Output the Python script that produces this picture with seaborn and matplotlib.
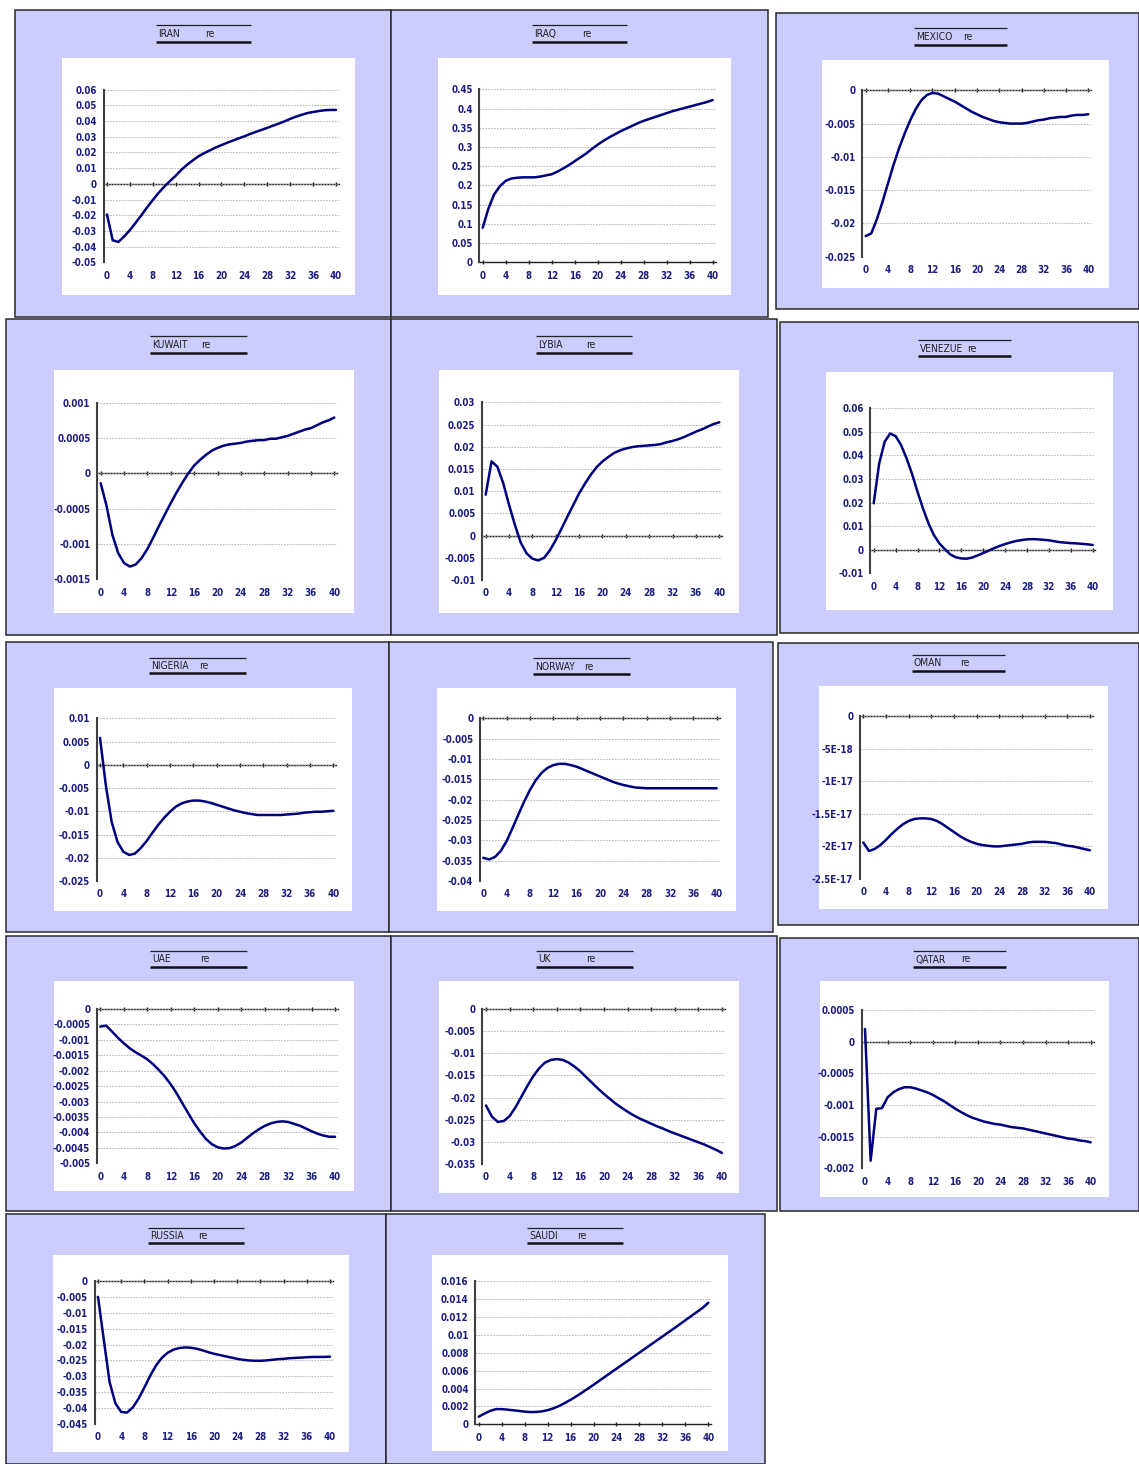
import numpy as np
import matplotlib
matplotlib.use("Agg")
import matplotlib.pyplot as plt
from matplotlib import font_manager
import seaborn as sns
from matplotlib.patches import Rectangle

# Impulse responses of "re" over a 40-period horizon
horizon = list(range(41))

iran = [-0.0195, -0.0360, -0.0370, -0.0335, -0.0295, -0.0248, -0.0200, -0.0150, -0.0103, -0.0058,
        -0.0018, 0.0018, 0.0052, 0.0090, 0.0122, 0.0150, 0.0176, 0.0196, 0.0214, 0.0232,
        0.0247, 0.0262, 0.0276, 0.0290, 0.0303, 0.0318, 0.0331, 0.0344, 0.0357, 0.0371,
        0.0384, 0.0398, 0.0414, 0.0428, 0.0440, 0.0451, 0.0458, 0.0464, 0.0469, 0.0471, 0.0471]
iraq = [0.090, 0.140, 0.177, 0.198, 0.212, 0.218, 0.220, 0.221, 0.221, 0.221,
        0.223, 0.226, 0.229, 0.236, 0.244, 0.253, 0.263, 0.273, 0.283, 0.295,
        0.306, 0.316, 0.325, 0.333, 0.341, 0.348, 0.355, 0.362, 0.368, 0.373,
        0.378, 0.383, 0.388, 0.393, 0.397, 0.401, 0.405, 0.409, 0.413, 0.417, 0.422]
mexico = [-0.0219, -0.0215, -0.0194, -0.0168, -0.0140, -0.0112, -0.0087, -0.0065, -0.0045, -0.0028,
          -0.0015, -0.0007, -0.0004, -0.0005, -0.0009, -0.0013, -0.0017, -0.0022, -0.0027, -0.0032,
          -0.0036, -0.0040, -0.0043, -0.0046, -0.0048, -0.0049, -0.0050, -0.0050, -0.0050, -0.0049,
          -0.0047, -0.0045, -0.0044, -0.0042, -0.0041, -0.0040, -0.0040, -0.0038, -0.0037, -0.0037, -0.0036]
kuwait = [-0.00014, -0.00046, -0.00087, -0.00113, -0.00127, -0.00132, -0.00129, -0.00120, -0.00107, -0.00091,
          -0.00074, -0.00058, -0.00042, -0.00027, -0.00013, 0.00000, 0.00011, 0.00019, 0.00026, 0.00032,
          0.00036, 0.00039, 0.00041, 0.00042, 0.00043, 0.00045, 0.00046, 0.00047, 0.00047, 0.00049,
          0.00049, 0.00051, 0.00053, 0.00056, 0.00059, 0.00062, 0.00064, 0.00068, 0.00072, 0.00075, 0.00079]
lybia = [0.0092, 0.0167, 0.0155, 0.0118, 0.0069, 0.0024, -0.0016, -0.0040, -0.0052, -0.0056,
         -0.0050, -0.0033, -0.0010, 0.0016, 0.0043, 0.0069, 0.0095, 0.0117, 0.0137, 0.0154,
         0.0167, 0.0177, 0.0186, 0.0192, 0.0196, 0.0199, 0.0201, 0.0202, 0.0203, 0.0204,
         0.0206, 0.0210, 0.0213, 0.0217, 0.0222, 0.0228, 0.0234, 0.0239, 0.0245, 0.0251, 0.0255]
venezue = [0.0197, 0.0366, 0.0458, 0.0493, 0.0482, 0.0444, 0.0388, 0.0322, 0.0246, 0.0175,
           0.0112, 0.0062, 0.0027, 0.0002, -0.0020, -0.0032, -0.0037, -0.0038, -0.0033, -0.0024,
           -0.0014, -0.0004, 0.0007, 0.0016, 0.0024, 0.0031, 0.0037, 0.0041, 0.0044, 0.0045,
           0.0044, 0.0042, 0.0040, 0.0036, 0.0032, 0.0030, 0.0028, 0.0027, 0.0025, 0.0023, 0.0020]
nigeria = [0.0058, -0.0044, -0.0123, -0.0166, -0.0187, -0.0194, -0.0191, -0.0179, -0.0164, -0.0146,
           -0.0129, -0.0114, -0.0101, -0.0090, -0.0083, -0.0079, -0.0077, -0.0077, -0.0079, -0.0082,
           -0.0086, -0.0090, -0.0094, -0.0098, -0.0101, -0.0104, -0.0106, -0.0108, -0.0108, -0.0108,
           -0.0108, -0.0108, -0.0107, -0.0106, -0.0105, -0.0103, -0.0102, -0.0101, -0.0101, -0.0100, -0.0099]
norway = [-0.0343, -0.0347, -0.0341, -0.0326, -0.0302, -0.0270, -0.0237, -0.0205, -0.0176, -0.0152,
          -0.0134, -0.0122, -0.0115, -0.0112, -0.0112, -0.0115, -0.0119, -0.0125, -0.0131, -0.0137,
          -0.0143, -0.0149, -0.0155, -0.0160, -0.0164, -0.0167, -0.0170, -0.0171, -0.0172, -0.0172,
          -0.0172, -0.0172, -0.0172, -0.0172, -0.0172, -0.0172, -0.0172, -0.0172, -0.0172, -0.0172, -0.0172]
# Oman responses are of order 1E-17
oman = np.array([-1.94, -2.07, -2.04, -1.98, -1.90, -1.81, -1.73, -1.66, -1.61, -1.58,
                 -1.57, -1.57, -1.58, -1.61, -1.66, -1.72, -1.78, -1.84, -1.89, -1.93,
                 -1.96, -1.98, -1.99, -2.00, -2.00, -1.99, -1.98, -1.97, -1.96, -1.94,
                 -1.93, -1.93, -1.93, -1.94, -1.95, -1.97, -1.99, -2.00, -2.02, -2.04, -2.06]) * 1e-17
uae = [-0.00057, -0.00054, -0.00073, -0.00093, -0.00111, -0.00127, -0.00140, -0.00151, -0.00163, -0.00179,
       -0.00198, -0.00219, -0.00244, -0.00273, -0.00306, -0.00338, -0.00370, -0.00397, -0.00421, -0.00438,
       -0.00448, -0.00452, -0.00451, -0.00444, -0.00433, -0.00418, -0.00403, -0.00390, -0.00379, -0.00371,
       -0.00366, -0.00364, -0.00366, -0.00372, -0.00378, -0.00387, -0.00396, -0.00404, -0.00410, -0.00414, -0.00414]
uk = [-0.0218, -0.0243, -0.0255, -0.0253, -0.0242, -0.0222, -0.0198, -0.0174, -0.0152, -0.0134,
      -0.0121, -0.0115, -0.0113, -0.0115, -0.0121, -0.0130, -0.0141, -0.0154, -0.0167, -0.0180,
      -0.0192, -0.0203, -0.0214, -0.0223, -0.0232, -0.0240, -0.0247, -0.0253, -0.0259, -0.0265,
      -0.0270, -0.0276, -0.0281, -0.0286, -0.0291, -0.0296, -0.0301, -0.0306, -0.0312, -0.0318, -0.0325]
qatar = [0.00020, -0.00188, -0.00106, -0.00105, -0.00088, -0.00080, -0.00075, -0.00072, -0.00072, -0.00074,
         -0.00077, -0.00080, -0.00084, -0.00089, -0.00094, -0.00100, -0.00106, -0.00111, -0.00116, -0.00120,
         -0.00123, -0.00126, -0.00128, -0.00130, -0.00131, -0.00133, -0.00135, -0.00136, -0.00137, -0.00139,
         -0.00141, -0.00143, -0.00145, -0.00147, -0.00149, -0.00151, -0.00153, -0.00154, -0.00156, -0.00157, -0.00159]
russia = [-0.0050, -0.0185, -0.0318, -0.0385, -0.0412, -0.0414, -0.0398, -0.0370, -0.0335, -0.0298,
          -0.0266, -0.0242, -0.0226, -0.0216, -0.0211, -0.0209, -0.0210, -0.0213, -0.0218, -0.0224,
          -0.0229, -0.0233, -0.0237, -0.0241, -0.0245, -0.0248, -0.0250, -0.0251, -0.0251, -0.0250,
          -0.0248, -0.0246, -0.0245, -0.0243, -0.0242, -0.0241, -0.0240, -0.0239, -0.0239, -0.0239, -0.0238]
saudi = [0.00085, 0.00120, 0.00150, 0.00170, 0.00170, 0.00164, 0.00157, 0.00150, 0.00142, 0.00137,
         0.00138, 0.00145, 0.00158, 0.00178, 0.00205, 0.00238, 0.00274, 0.00313, 0.00355, 0.00398,
         0.00442, 0.00487, 0.00532, 0.00577, 0.00622, 0.00667, 0.00712, 0.00757, 0.00802, 0.00847,
         0.00892, 0.00937, 0.00982, 0.01027, 0.01072, 0.01118, 0.01164, 0.01210, 0.01256, 0.01302, 0.01360]

# Y-axis tick values per panel
iran_yt = [0.06, 0.05, 0.04, 0.03, 0.02, 0.01, 0, -0.01, -0.02, -0.03, -0.04, -0.05]
iraq_yt = [0.45, 0.4, 0.35, 0.3, 0.25, 0.2, 0.15, 0.1, 0.05, 0]
mexico_yt = [0, -0.005, -0.01, -0.015, -0.02, -0.025]
kuwait_yt = [0.001, 0.0005, 0, -0.0005, -0.001, -0.0015]
lybia_yt = [0.03, 0.025, 0.02, 0.015, 0.01, 0.005, 0, -0.005, -0.01]
venezue_yt = [0.06, 0.05, 0.04, 0.03, 0.02, 0.01, 0, -0.01]
nigeria_yt = [0.01, 0.005, 0, -0.005, -0.01, -0.015, -0.02, -0.025]
norway_yt = [0, -0.005, -0.01, -0.015, -0.02, -0.025, -0.03, -0.035, -0.04]
oman_yt = [0, -5e-18, -1e-17, -1.5e-17, -2e-17, -2.5e-17]
uae_yt = [0, -0.0005, -0.001, -0.0015, -0.002, -0.0025, -0.003, -0.0035, -0.004, -0.0045, -0.005]
uk_yt = [0, -0.005, -0.01, -0.015, -0.02, -0.025, -0.03, -0.035]
qatar_yt = [0.0005, 0, -0.0005, -0.001, -0.0015, -0.002]
russia_yt = [0, -0.005, -0.01, -0.015, -0.02, -0.025, -0.03, -0.035, -0.04, -0.045]
saudi_yt = [0.016, 0.014, 0.012, 0.01, 0.008, 0.006, 0.004, 0.002, 0]
x_ticks = list(range(0, 41, 4))

# Layout in pixels: outer box, white plot frame, (x of t=0, x of t=40, top, bottom),
# title rule (x0, x1, y upper, y lower) and text positions (name x, "re" x)
panels = [
    ("IRAN", iran, iran_yt, (15, 10, 391, 317), (62, 58, 355, 295), (107, 336, 89.7, 262.3), (156, 251, 25, 42, 158, 205)),
    ("IRAQ", iraq, iraq_yt, (391, 10, 768, 317), (438, 58, 731, 295), (482.7, 712.7, 89.3, 262.3), (532, 627, 25, 42, 534, 582)),
    ("MEXICO", mexico, mexico_yt, (776, 13, 1139, 309), (822, 60, 1109, 288), (865.7, 1088.3, 90.3, 256.7), (914, 1007, 28, 45, 916, 963)),
    ("KUWAIT", kuwait, kuwait_yt, (6, 319, 391, 635), (54, 370, 354, 613), (100.7, 334.3, 402.7, 579.3), (150, 247, 336, 353, 152, 201)),
    ("LYBIA", lybia, lybia_yt, (391, 319, 777, 635), (439, 370, 739, 613), (485.7, 719.3, 402.3, 580), (536, 632, 336, 353, 538, 586)),
    ("VENEZUE", venezue, venezue_yt, (780, 322, 1139, 633), (826, 372, 1113, 610), (873.7, 1092.7, 408.3, 573.3), (918, 1011, 340, 356, 920, 967)),
    ("NIGERIA", nigeria, nigeria_yt, (6, 642, 389, 932), (54, 688, 352, 911), (100, 333.3, 718.3, 881), (149, 246, 658, 673, 151, 199)),
    ("NORWAY", norway, norway_yt, (389, 642, 773, 932), (437, 688, 736, 911), (483.3, 716.7, 718.3, 881), (533, 630, 658, 674, 535, 584)),
    ("OMAN", oman, oman_yt, (778, 643, 1139, 925), (819, 686, 1108, 909), (863.3, 1090, 716, 879), (912, 1005, 655, 671, 914, 960)),
    ("UAE", uae, uae_yt, (6, 936, 391, 1211), (54, 981, 354, 1191), (100.3, 335, 1009, 1163.3), (150, 247, 951, 967, 152, 200)),
    ("UK", uk, uk_yt, (391, 936, 777, 1211), (439, 981, 739, 1193), (486, 722, 1009, 1164), (536, 633, 951, 967, 538, 586)),
    ("QATAR", qatar, qatar_yt, (780, 938, 1139, 1211), (820, 981, 1109, 1197), (865, 1090.7, 1010, 1168.3), (913, 1006, 951, 967, 915, 961)),
    ("RUSSIA", russia, russia_yt, (6, 1214, 386, 1464), (53, 1255, 349, 1452), (98, 330, 1281, 1424), (148, 244, 1228, 1243, 150, 198)),
    ("SAUDI", saudi, saudi_yt, (386, 1214, 765, 1464), (432, 1255, 728, 1451), (478.7, 708.3, 1281.3, 1424.3), (527, 623, 1228, 1243, 529, 577)),
]

sns.set_style("white")

# Prefer a narrow sans face for the compact labels when one is available
installed = font_manager.fontManager.ttflist
names = {f.name for f in installed}
stretch = "normal"
if "Liberation Sans Narrow" in names:
    face = "Liberation Sans Narrow"
    title_size, tick_size = 8.0, 7.6
elif "DejaVu Sans Condensed" in names:
    face = "DejaVu Sans Condensed"
    title_size, tick_size = 7.4, 7.0
elif any(f.name == "DejaVu Sans" and f.stretch == "condensed" for f in installed):
    face = "DejaVu Sans"
    stretch = "condensed"
    title_size, tick_size = 7.4, 7.0
else:
    face = "Liberation Sans"
    title_size, tick_size = 7.0, 7.0
plt.rcParams['font.family'] = [face, 'Liberation Sans', 'DejaVu Sans']
plt.rcParams['font.stretch'] = stretch

LINE = "#000080"
LABEL = "#1C1C82"
LAVENDER = "#CCCCFF"
GRID = "#ABABAB"
AXIS = "#404040"

W, H = 1139, 1464
fig = plt.figure(figsize=(W / 100, H / 100), dpi=100, facecolor="white")

# Background layer in pixel units for the frames and titles
bg = fig.add_axes([0, 0, 1, 1], zorder=-5)
bg.set_xlim(0, W)
bg.set_ylim(H, 0)
bg.axis("off")

XL, XR = -0.6, 40.5

for name, vals, yt, box, white, plot, title in panels:
    bx0, by0, bx1, by1 = box
    bg.add_patch(Rectangle((bx0, by0), bx1 - bx0, by1 - by0, facecolor=LAVENDER,
                           edgecolor="#2a2a2a", linewidth=1.1))
    wx0, wy0, wx1, wy1 = white
    bg.add_patch(Rectangle((wx0, wy0), wx1 - wx0, wy1 - wy0, facecolor="white", edgecolor="none"))

    lx0, lx1, ly0, ly1, nx, rx = title
    bg.hlines(ly0, lx0, lx1, color="#222222", linewidth=0.9)
    bg.hlines(ly1, lx0, lx1, color="#111111", linewidth=1.8)
    ty = (ly0 + ly1) / 2 + 0.5
    bg.text(nx, ty, name, fontsize=title_size, va="center", ha="left", color="#222222")
    bg.text(rx, ty, "re", fontsize=title_size, va="center", ha="left", color="#222222")

    p0, p40, ptop, pbot = plot
    ppu = (p40 - p0) / 40.0
    left = p0 + XL * ppu
    right = p0 + XR * ppu
    ax = fig.add_axes([left / W, 1 - pbot / H, (right - left) / W, (pbot - ptop) / H])
    ax.set_facecolor("none")

    sns.lineplot(x=horizon, y=vals, ax=ax, color=LINE, linewidth=1.8, zorder=5)

    lo, hi = min(yt), max(yt)
    ax.set_xlim(XL, XR)
    ax.set_ylim(lo, hi)
    ax.set_xlabel("")
    ax.set_ylabel("")

    ax.set_xticks(x_ticks)
    ax.set_xticklabels([str(v) for v in x_ticks], fontsize=tick_size, fontweight="bold", color=LABEL)
    ax.set_xticks(x_ticks[1:], minor=True)
    ax.set_yticks(yt)
    ax.set_yticklabels([f"{v:G}" for v in yt], fontsize=tick_size, fontweight="bold", color=LABEL)

    ax.tick_params(axis="x", which="both", length=0, pad=6)
    ax.tick_params(axis="y", direction="inout", length=3.5, width=1.0, color=AXIS, pad=3)

    ax.grid(False)
    ax.grid(True, axis="x", which="minor", color=GRID, linestyle=(0, (2, 1.5)), linewidth=0.6)
    ax.grid(True, axis="y", which="major", color=GRID, linestyle=(0, (2, 1.5)), linewidth=0.6)

    for s in ("top", "right", "bottom"):
        ax.spines[s].set_visible(False)
    ax.spines["left"].set_color(AXIS)
    ax.spines["left"].set_linewidth(1.5)

    # Category axis crossing at zero with its tick marks
    zpos = (0 - lo) / (hi - lo)
    sec = ax.secondary_xaxis(zpos)
    sec.set_xticks(x_ticks)
    sec.tick_params(axis="x", direction="inout", length=2.5, width=1.0, color="#222222",
                    labelbottom=False, labeltop=False)
    for sp in sec.spines.values():
        sp.set_color("#222222")
        sp.set_linewidth(1.0)

fig.savefig("out.png", dpi=100, facecolor="white")
